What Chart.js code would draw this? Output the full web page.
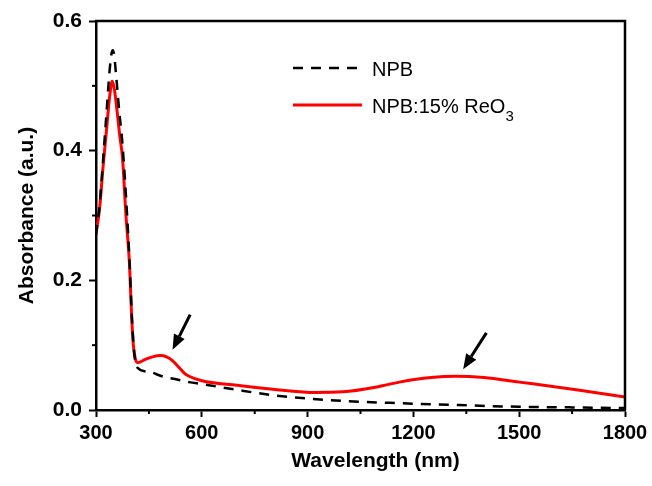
<!DOCTYPE html>
<html>
<head>
<meta charset="utf-8">
<script src="https://cdn.jsdelivr.net/npm/chart.js@4.4.0/dist/chart.umd.min.js"></script>
<style>
  body { margin: 0; background: #fff; }
  canvas { display: block; }
</style>
</head>
<body>
<canvas id="absChart" width="652" height="486"></canvas>
<script>
// NPB film (dashed black)
const wavelengthNpb = [300, 310, 320, 330, 338, 344, 348, 352, 358, 366, 374, 385, 395, 402, 408, 416,
    450, 487, 530, 564, 600, 700, 800, 916, 1000, 1134, 1300, 1500, 1650, 1800];
const absorbanceNpb = [0.27, 0.315, 0.385, 0.46, 0.52, 0.55, 0.555, 0.545, 0.51, 0.46, 0.417, 0.33, 0.23, 0.14, 0.09, 0.066,
    0.059, 0.052, 0.047, 0.043, 0.040, 0.031, 0.023, 0.017, 0.014, 0.011, 0.008, 0.005, 0.004, 0.003];

// NPB:15% ReO3 film (solid red)
const wavelengthReO3 = [300, 310, 320, 330, 338, 346, 352, 360, 368, 375, 385, 395, 401, 406, 412, 419,
    440, 460, 484, 500, 515, 535, 550, 564, 600, 700, 820, 920, 1000, 1100, 1160, 1250, 1320, 1400,
    1500, 1600, 1700, 1800];
const absorbanceReO3 = [0.272, 0.31, 0.375, 0.433, 0.48, 0.507, 0.495, 0.46, 0.42, 0.39, 0.30, 0.225, 0.145, 0.10, 0.078, 0.073,
    0.078, 0.082, 0.084, 0.082, 0.077, 0.066, 0.057, 0.052, 0.045, 0.038, 0.031, 0.027, 0.028, 0.036, 0.043, 0.050, 0.052, 0.050,
    0.043, 0.036, 0.028, 0.020];

const xMajorTicks = [300, 600, 900, 1200, 1500, 1800];
const yMajorTicks = [0.0, 0.2, 0.4, 0.6];

// arrows marking the two ReO3 bands: [wavelength, absorbance]
const arrowTails = [[567, 0.147], [1407, 0.119]];
const arrowHeads = [[517, 0.093], [1341, 0.063]];

const fontFam = 'Arial, "Liberation Sans", sans-serif';
const toPoints = (xs, ys) => xs.map((x, i) => ({ x: x, y: ys[i] }));
const isMajorX = v => xMajorTicks.includes(Math.round(v));
const isMajorY = v => yMajorTicks.some(t => Math.abs(t - v) < 1e-6);

function drawArrow(ctx, x0, y0, x1, y1) {
    const ang = Math.atan2(y1 - y0, x1 - x0);
    const headLen = 15, headW = 6;
    const bx = x1 - headLen * Math.cos(ang), by = y1 - headLen * Math.sin(ang);
    ctx.lineWidth = 3;
    ctx.beginPath();
    ctx.moveTo(x0, y0);
    ctx.lineTo(bx, by);
    ctx.stroke();
    ctx.beginPath();
    ctx.moveTo(x1, y1);
    ctx.lineTo(bx + headW * Math.sin(ang), by - headW * Math.cos(ang));
    ctx.lineTo(bx - headW * Math.sin(ang), by + headW * Math.cos(ang));
    ctx.closePath();
    ctx.fill();
}

// text with unicode subscript digits drawn as small lowered digits
function drawLabel(ctx, text, x, y) {
    let cx = x;
    for (const ch of text) {
        const code = ch.charCodeAt(0);
        if (code >= 0x2080 && code <= 0x2089) {
            ctx.font = '15px ' + fontFam;
            const d = String(code - 0x2080);
            ctx.fillText(d, cx, y + 8);
            cx += ctx.measureText(d).width;
        } else {
            ctx.font = '20px ' + fontFam;
            ctx.fillText(ch, cx, y);
            cx += ctx.measureText(ch).width;
        }
    }
}

const extrasPlugin = {
    id: 'extras',
    afterDatasetsDraw(chart) {
        const { ctx, chartArea: a, scales: { x, y } } = chart;
        ctx.save();
        ctx.strokeStyle = '#000';
        ctx.fillStyle = '#000';

        // close the box on top and right
        ctx.lineWidth = 2.5;
        ctx.beginPath();
        ctx.moveTo(a.left - 1, a.top);
        ctx.lineTo(a.right, a.top);
        ctx.lineTo(a.right, a.bottom);
        ctx.stroke();

        // shorter minor ticks
        ctx.lineWidth = 2;
        x.ticks.filter(t => !isMajorX(t.value)).forEach(t => {
            const px = x.getPixelForValue(t.value);
            ctx.beginPath();
            ctx.moveTo(px, a.bottom);
            ctx.lineTo(px, a.bottom + 4);
            ctx.stroke();
        });
        y.ticks.filter(t => !isMajorY(t.value)).forEach(t => {
            const py = y.getPixelForValue(t.value);
            ctx.beginPath();
            ctx.moveTo(a.left, py);
            ctx.lineTo(a.left - 4, py);
            ctx.stroke();
        });

        // arrows
        arrowTails.forEach((t, i) => {
            const h = arrowHeads[i];
            drawArrow(ctx, x.getPixelForValue(t[0]), y.getPixelForValue(t[1]),
                x.getPixelForValue(h[0]), y.getPixelForValue(h[1]));
        });

        // legend
        chart.data.datasets.forEach((ds, i) => {
            const ly = a.top + 47 + i * 37;
            ctx.save();
            ctx.strokeStyle = ds.borderColor;
            ctx.lineWidth = ds.borderWidth;
            ctx.setLineDash(ds.borderDash || []);
            ctx.beginPath();
            ctx.moveTo(a.left + 197, ly);
            ctx.lineTo(a.left + 266, ly);
            ctx.stroke();
            ctx.restore();
            ctx.textAlign = 'left';
            ctx.textBaseline = 'alphabetic';
            drawLabel(ctx, ds.label, a.left + 276, ly + 7.5);
        });

        // x axis title
        ctx.font = 'bold 21px ' + fontFam;
        ctx.textAlign = 'center';
        ctx.textBaseline = 'alphabetic';
        ctx.fillText('Wavelength (nm)', (a.left + a.right) / 2 + 15, a.bottom + 57);
        ctx.restore();
    }
};

const ctx = document.getElementById('absChart');
const absChart = new Chart(ctx, {
    type: 'line',
    data: {
        datasets: [{
            label: 'NPB',
            data: toPoints(wavelengthNpb, absorbanceNpb),
            borderColor: '#000000',
            borderWidth: 2.5,
            borderDash: [10, 8],
            pointRadius: 0,
            fill: false,
            cubicInterpolationMode: 'monotone'
        }, {
            label: 'NPB:15% ReO₃',
            data: toPoints(wavelengthReO3, absorbanceReO3),
            borderColor: '#ff0000',
            borderWidth: 3,
            pointRadius: 0,
            fill: false,
            cubicInterpolationMode: 'monotone'
        }]
    },
    options: {
        responsive: false,
        animation: false,
        events: [],
        layout: { padding: { left: 0, right: 27, top: 21, bottom: 0 } },
        scales: {
            x: {
                type: 'linear',
                min: 300,
                max: 1800,
                afterFit: s => { s.height = 76; },
                ticks: {
                    stepSize: 150,
                    color: '#000',
                    padding: 4,
                    maxRotation: 0,
                    autoSkip: false,
                    font: { family: fontFam, size: 20, weight: 'bold' },
                    callback: v => isMajorX(v) ? String(v) : ''
                },
                grid: {
                    drawOnChartArea: false,
                    tickLength: 7,
                    tickWidth: 2,
                    tickColor: c => (c.tick && isMajorX(c.tick.value)) ? '#000' : 'rgba(0,0,0,0)'
                },
                border: { color: '#000', width: 2.5 }
            },
            y: {
                min: 0,
                max: 0.6,
                afterFit: s => { s.width = 96; },
                ticks: {
                    stepSize: 0.1,
                    color: '#000',
                    padding: 7,
                    font: { family: fontFam, size: 21, weight: 'bold' },
                    callback: v => isMajorY(v) ? v.toFixed(1) : ''
                },
                grid: {
                    drawOnChartArea: false,
                    tickLength: 7,
                    tickWidth: 2,
                    tickColor: c => (c.tick && isMajorY(c.tick.value)) ? '#000' : 'rgba(0,0,0,0)'
                },
                border: { color: '#000', width: 2.5 },
                title: {
                    display: true,
                    text: 'Absorbance (a.u.)',
                    color: '#000',
                    font: { family: fontFam, size: 21, weight: 'bold' },
                    padding: { top: 15, bottom: 0 }
                }
            }
        },
        plugins: {
            legend: { display: false },
            tooltip: { enabled: false }
        }
    },
    plugins: [extrasPlugin]
});
</script>
</body>
</html>
